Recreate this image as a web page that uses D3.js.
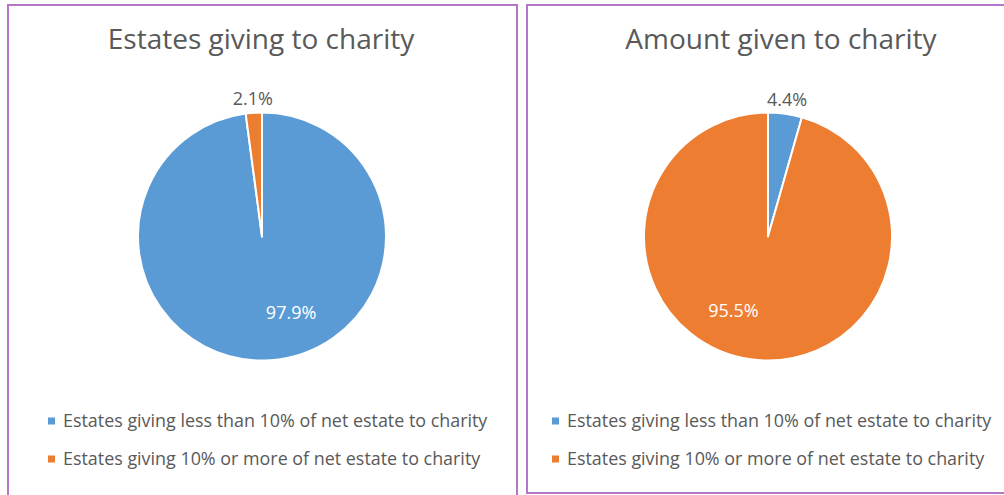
<!DOCTYPE html>
<html>
<head>
<meta charset="utf-8">
<script src="https://cdn.jsdelivr.net/npm/d3@7"></script>
<style>
  body { margin: 0; background: #fff; }
  svg { display: block; font-family: "Open Sans", sans-serif; }
</style>
</head>
<body>
<svg id="chart" width="1004" height="495"></svg>
<script>
const categories = [
  "Estates giving less than 10% of net estate to charity",
  "Estates giving 10% or more of net estate to charity"
]
const titles = ["Estates giving to charity", "Amount given to charity"]
const estatesShare = [97.9, 2.1]
const amountShare = [4.4, 95.5]

const colors = ["#5b9bd5", "#ed7d31"]
const textGray = "#595959"
const borderColor = "#b476c6"

const svg = d3.select("#chart")

const panels = [
  { title: titles[0], values: estatesShare, x: 8, w: 509, h: 492, cx: 262, titleX: 261, labelShift: -17, legendX: 48 },
  { title: titles[1], values: amountShare, x: 527, w: 490, h: 488, cx: 768, titleX: 781, labelShift: 17, legendX: 552 }
]

const radius = 124
const cy = 236.5
const pie = d3.pie().sort(null).value(d => d)
const arc = d3.arc().innerRadius(0).outerRadius(radius)
const color = d3.scaleOrdinal().domain(categories).range(colors)

panels.forEach(p => {
  svg.append("rect")
    .attr("x", p.x).attr("y", 5)
    .attr("width", p.w).attr("height", p.h)
    .attr("fill", "none")
    .attr("stroke", borderColor)
    .attr("stroke-width", 2)

  svg.append("text")
    .attr("x", p.titleX).attr("y", 49)
    .attr("text-anchor", "middle")
    .attr("fill", textGray)
    .attr("font-size", 28)
    .text(p.title)

  const g = svg.append("g").attr("transform", `translate(${p.cx},${cy})`)
  const arcs = pie(p.values)

  g.selectAll("path")
    .data(arcs)
    .join("path")
    .attr("d", arc)
    .attr("fill", (d, i) => color(categories[i]))
    .attr("stroke", "#fff")
    .attr("stroke-width", 2)
    .attr("stroke-linejoin", "round")

  g.selectAll("text")
    .data(arcs)
    .join("text")
    .attr("transform", d => {
      const share = (d.endAngle - d.startAngle) / (2 * Math.PI)
      const small = share < 0.1
      const mid = (d.startAngle + d.endAngle) / 2 + (small ? 0 : p.labelShift * Math.PI / 180)
      const r = small ? radius + 14 : 82
      return `translate(${r * Math.sin(mid)},${-r * Math.cos(mid)})`
    })
    .attr("dy", "0.35em")
    .attr("text-anchor", "middle")
    .attr("font-size", 18)
    .attr("fill", d => (d.endAngle - d.startAngle) / (2 * Math.PI) < 0.1 ? textGray : "#fff")
    .text(d => d.data.toFixed(1) + "%")

  const legend = svg.append("g")
    .selectAll("g")
    .data(categories)
    .join("g")
    .attr("transform", (d, i) => `translate(${p.legendX},${421 + i * 38})`)

  legend.append("rect")
    .attr("x", 0).attr("y", -3.5)
    .attr("width", 7).attr("height", 7)
    .attr("fill", d => color(d))

  legend.append("text")
    .attr("x", 15).attr("dy", "0.35em")
    .attr("fill", textGray)
    .attr("font-size", 17.9)
    .text(d => d)
})
</script>
</body>
</html>
